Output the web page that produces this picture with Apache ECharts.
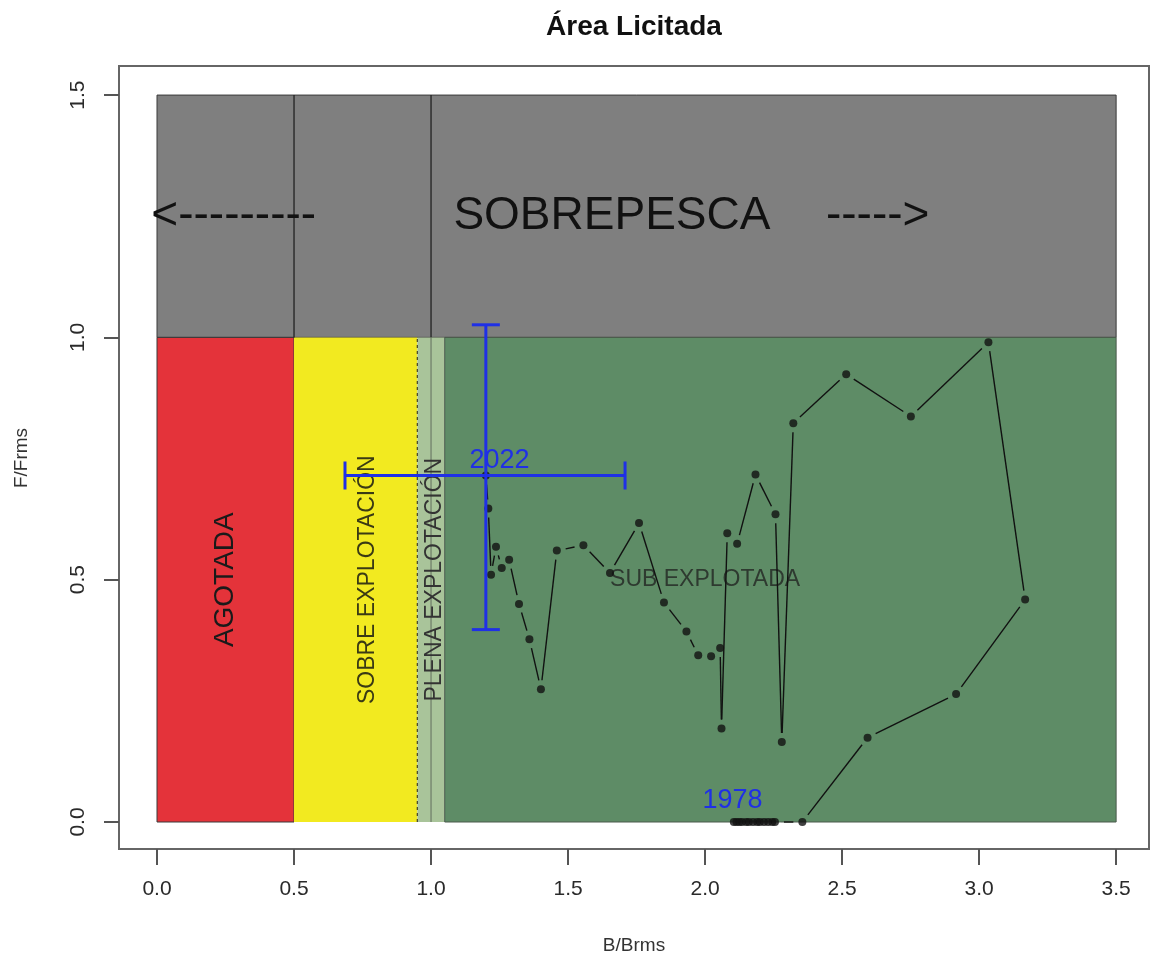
<!DOCTYPE html>
<html><head><meta charset="utf-8">
<script src="https://cdn.jsdelivr.net/npm/echarts@6/dist/echarts.min.js"></script>
<style>html,body{margin:0;padding:0;background:#fff}#c{width:1151px;height:962px}</style>
</head><body><div id="c"></div>
<script>
// ---------- data ----------
const xTicks = [0, 0.5, 1, 1.5, 2, 2.5, 3, 3.5];
const yTicks = [0, 0.5, 1, 1.5];
const xTickLabels = ['0.0', '0.5', '1.0', '1.5', '2.0', '2.5', '3.0', '3.5'];
const yTickLabels = ['0.0', '0.5', '1.0', '1.5'];

// status zones (B/Brms from-to, F/Frms from-to)
const zoneX0 = [0, 0, 0.5, 0.95, 1.05];
const zoneX1 = [3.5, 0.5, 0.95, 1.05, 3.5];
const zoneY0 = [1, 0, 0, 0, 0];
const zoneY1 = [1.5, 1, 1, 1, 1];

// reference lines
const refLineX = [0.5, 1.0, 0.95, 1.0];
const refLineY0 = [1, 1, 0, 0];
const refLineY1 = [1.5, 1.5, 1, 1];

// stock trajectory 1978 -> 2022
const bRatio = [2.105, 2.115, 2.125, 2.135, 2.15, 2.16, 2.175, 2.19, 2.20, 2.215, 2.23, 2.245, 2.255, 2.355,
  2.593, 2.916, 3.168, 3.034, 2.751, 2.515, 2.322, 2.280, 2.257, 2.184, 2.117, 2.081, 2.060, 2.055, 2.022,
  1.975, 1.932, 1.850, 1.759, 1.653, 1.556, 1.459, 1.401, 1.359, 1.321, 1.285, 1.258, 1.237, 1.219, 1.209, 1.200];
const fRatio = [0, 0, 0, 0, 0, 0, 0, 0, 0, 0, 0, 0, 0, 0,
  0.174, 0.264, 0.459, 0.990, 0.837, 0.924, 0.823, 0.165, 0.635, 0.717, 0.574, 0.596, 0.193, 0.359, 0.342,
  0.344, 0.393, 0.453, 0.617, 0.514, 0.571, 0.560, 0.274, 0.377, 0.450, 0.541, 0.524, 0.568, 0.510, 0.647, 0.715];

// last-year confidence intervals
const lastB = 1.200, lastF = 0.715;
const bLow = 0.686, bHigh = 1.708;
const fLow = 0.397, fHigh = 1.026;

// text annotations
const annText = ['SOBREPESCA', '<---------', '----->', 'AGOTADA', 'SOBRE EXPLOTACIÓN', 'PLENA EXPLOTACIÓN', 'SUB EXPLOTADA', '1978', '2022'];
const annX = [1.66, 0.28, 2.63, 0.25, 0.77, 1.015, 2.0, 2.10, 1.25];
const annY = [1.25, 1.25, 1.25, 0.5, 0.5, 0.5, 0.5, 0.045, 0.745];

// ---------- styles ----------
const FONT = '"Liberation Sans", Arial, sans-serif';
const zoneColors = ['#7f7f7f', '#e4333a', '#f2ea20', '#a9c49a', '#5e8c66'];
const zoneStroke = ['#3a3a3a', '#3a3a3a', null, null, '#4a5a4c'];
const annStyle = [
  {size: 46, color: '#111', rot: 0},
  {size: 46, color: '#111', rot: 0},
  {size: 46, color: '#111', rot: 0},
  {size: 28, color: '#1a1a1a', rot: 90},
  {size: 23, color: '#3a3a14', rot: 90},
  {size: 23, color: '#333', rot: 90},
  {size: 23, color: '#2e3a30', rot: 0},
  {size: 27, color: '#1f30e6', rot: 0},
  {size: 27, color: '#1f30e6', rot: 0}
];
const BLUE = '#1f30e6';

const chart = echarts.init(document.getElementById('c'), null, {renderer: 'canvas'});

const zoneData = zoneX0.map((x, i) => [x, zoneX1[i], zoneY0[i], zoneY1[i]]);
const refData = refLineX.map((x, i) => [x, refLineY0[i], refLineY1[i]]);
const segData = bRatio.slice(0, -1).map((b, i) => [b, fRatio[i], bRatio[i + 1], fRatio[i + 1]]);
const ptData = bRatio.map((b, i) => [b, fRatio[i]]);
const annData = annX.map((x, i) => [x, annY[i]]);

chart.setOption({
  animation: false,
  backgroundColor: '#fff',
  graphic: [
    {type: 'text', x: 634, y: 27, style: {text: 'Área Licitada', font: 'bold 28px ' + FONT, fill: '#111', textAlign: 'center', textVerticalAlign: 'middle'}},
    {type: 'text', x: 634, y: 946, style: {text: 'B/Brms', font: '19px ' + FONT, fill: '#333', textAlign: 'center', textVerticalAlign: 'middle'}},
    {type: 'text', x: 22, y: 458, rotation: Math.PI / 2, style: {text: 'F/Frms', font: '19px ' + FONT, fill: '#333', textAlign: 'center', textVerticalAlign: 'middle'}}
  ],
  grid: {left: 119, top: 66, width: 1030, height: 783, show: true, borderColor: '#666', borderWidth: 2, backgroundColor: 'transparent'},
  xAxis: {
    type: 'value', min: -0.1387, max: 3.620,
    axisLine: {show: false, onZero: false},
    splitLine: {show: false},
    axisTick: {show: true, inside: false, length: 16, lineStyle: {color: '#555', width: 2}, customValues: xTicks},
    axisLabel: {show: true, margin: 30, fontSize: 21, color: '#2a2a2a', fontFamily: FONT, customValues: xTicks,
      formatter: v => xTickLabels[xTicks.indexOf(v)] || ''}
  },
  yAxis: {
    type: 'value', min: -0.0557, max: 1.560,
    axisLine: {show: false, onZero: false},
    splitLine: {show: false},
    axisTick: {show: true, inside: false, length: 15, lineStyle: {color: '#555', width: 2}, customValues: yTicks},
    axisLabel: {show: true, margin: 30, rotate: 90, fontSize: 21, color: '#2a2a2a', fontFamily: FONT, customValues: yTicks,
      formatter: v => yTickLabels[yTicks.indexOf(v)] || ''}
  },
  series: [
    {
      type: 'custom', name: 'zones', data: zoneData, z: 1, silent: true,
      renderItem: (params, api) => {
        const i = params.dataIndex;
        const a = api.coord([api.value(0), api.value(3)]);
        const b = api.coord([api.value(1), api.value(2)]);
        return {type: 'rect', shape: {x: a[0], y: a[1], width: b[0] - a[0], height: b[1] - a[1]},
          style: {fill: zoneColors[i], stroke: zoneStroke[i], lineWidth: 1}};
      }
    },
    {
      type: 'custom', name: 'refs', data: refData, z: 2, silent: true,
      renderItem: (params, api) => {
        const i = params.dataIndex;
        const a = api.coord([api.value(0), api.value(1)]);
        const b = api.coord([api.value(0), api.value(2)]);
        const styles = [
          {stroke: '#222', lineWidth: 1.3},
          {stroke: '#222', lineWidth: 1.3},
          {stroke: '#4a4a30', lineWidth: 1.3, lineDash: [3, 3]},
          {stroke: '#7a8a72', lineWidth: 1.5}
        ];
        return {type: 'line', shape: {x1: a[0], y1: a[1], x2: b[0], y2: b[1]}, style: styles[i]};
      }
    },
    {
      type: 'custom', name: 'labels', data: annData, z: 3, silent: true,
      renderItem: (params, api) => {
        const i = params.dataIndex;
        const p = api.coord([api.value(0), api.value(1)]);
        const s = annStyle[i];
        return {type: 'text', x: p[0], y: p[1], rotation: s.rot ? Math.PI / 2 : 0,
          style: {text: annText[i], font: s.size + 'px ' + FONT, fill: s.color, textAlign: 'center', textVerticalAlign: 'middle'}};
      }
    },
    {
      type: 'custom', name: 'trajectory', data: segData, z: 4, silent: true,
      renderItem: (params, api) => {
        const a = api.coord([api.value(0), api.value(1)]);
        const b = api.coord([api.value(2), api.value(3)]);
        const dx = b[0] - a[0], dy = b[1] - a[1];
        const len = Math.sqrt(dx * dx + dy * dy);
        const gap = 9;
        if (len <= 2 * gap) return null;
        const ux = dx / len, uy = dy / len;
        return {type: 'line', shape: {x1: a[0] + ux * gap, y1: a[1] + uy * gap, x2: b[0] - ux * gap, y2: b[1] - uy * gap},
          style: {stroke: '#111', lineWidth: 1.4}};
      }
    },
    {
      type: 'scatter', name: 'points', data: ptData, z: 5, symbol: 'circle', symbolSize: 8,
      itemStyle: {color: '#111'}, silent: true
    },
    {
      type: 'custom', name: 'errorbars', data: [[lastB, lastF, bLow, bHigh, fLow, fHigh]], z: 6, silent: true,
      renderItem: (params, api) => {
        const bx = api.value(0), fy = api.value(1);
        const h1 = api.coord([api.value(2), fy]);
        const h2 = api.coord([api.value(3), fy]);
        const v1 = api.coord([bx, api.value(4)]);
        const v2 = api.coord([bx, api.value(5)]);
        const cap = 14;
        const st = {stroke: BLUE, lineWidth: 3};
        return {type: 'group', children: [
          {type: 'line', shape: {x1: h1[0], y1: h1[1], x2: h2[0], y2: h2[1]}, style: st},
          {type: 'line', shape: {x1: v1[0], y1: v1[1], x2: v2[0], y2: v2[1]}, style: st},
          {type: 'line', shape: {x1: h1[0], y1: h1[1] - cap, x2: h1[0], y2: h1[1] + cap}, style: st},
          {type: 'line', shape: {x1: h2[0], y1: h2[1] - cap, x2: h2[0], y2: h2[1] + cap}, style: st},
          {type: 'line', shape: {x1: v1[0] - cap, y1: v1[1], x2: v1[0] + cap, y2: v1[1]}, style: st},
          {type: 'line', shape: {x1: v2[0] - cap, y1: v2[1], x2: v2[0] + cap, y2: v2[1]}, style: st}
        ]};
      }
    }
  ]
});
</script>
</body></html>
